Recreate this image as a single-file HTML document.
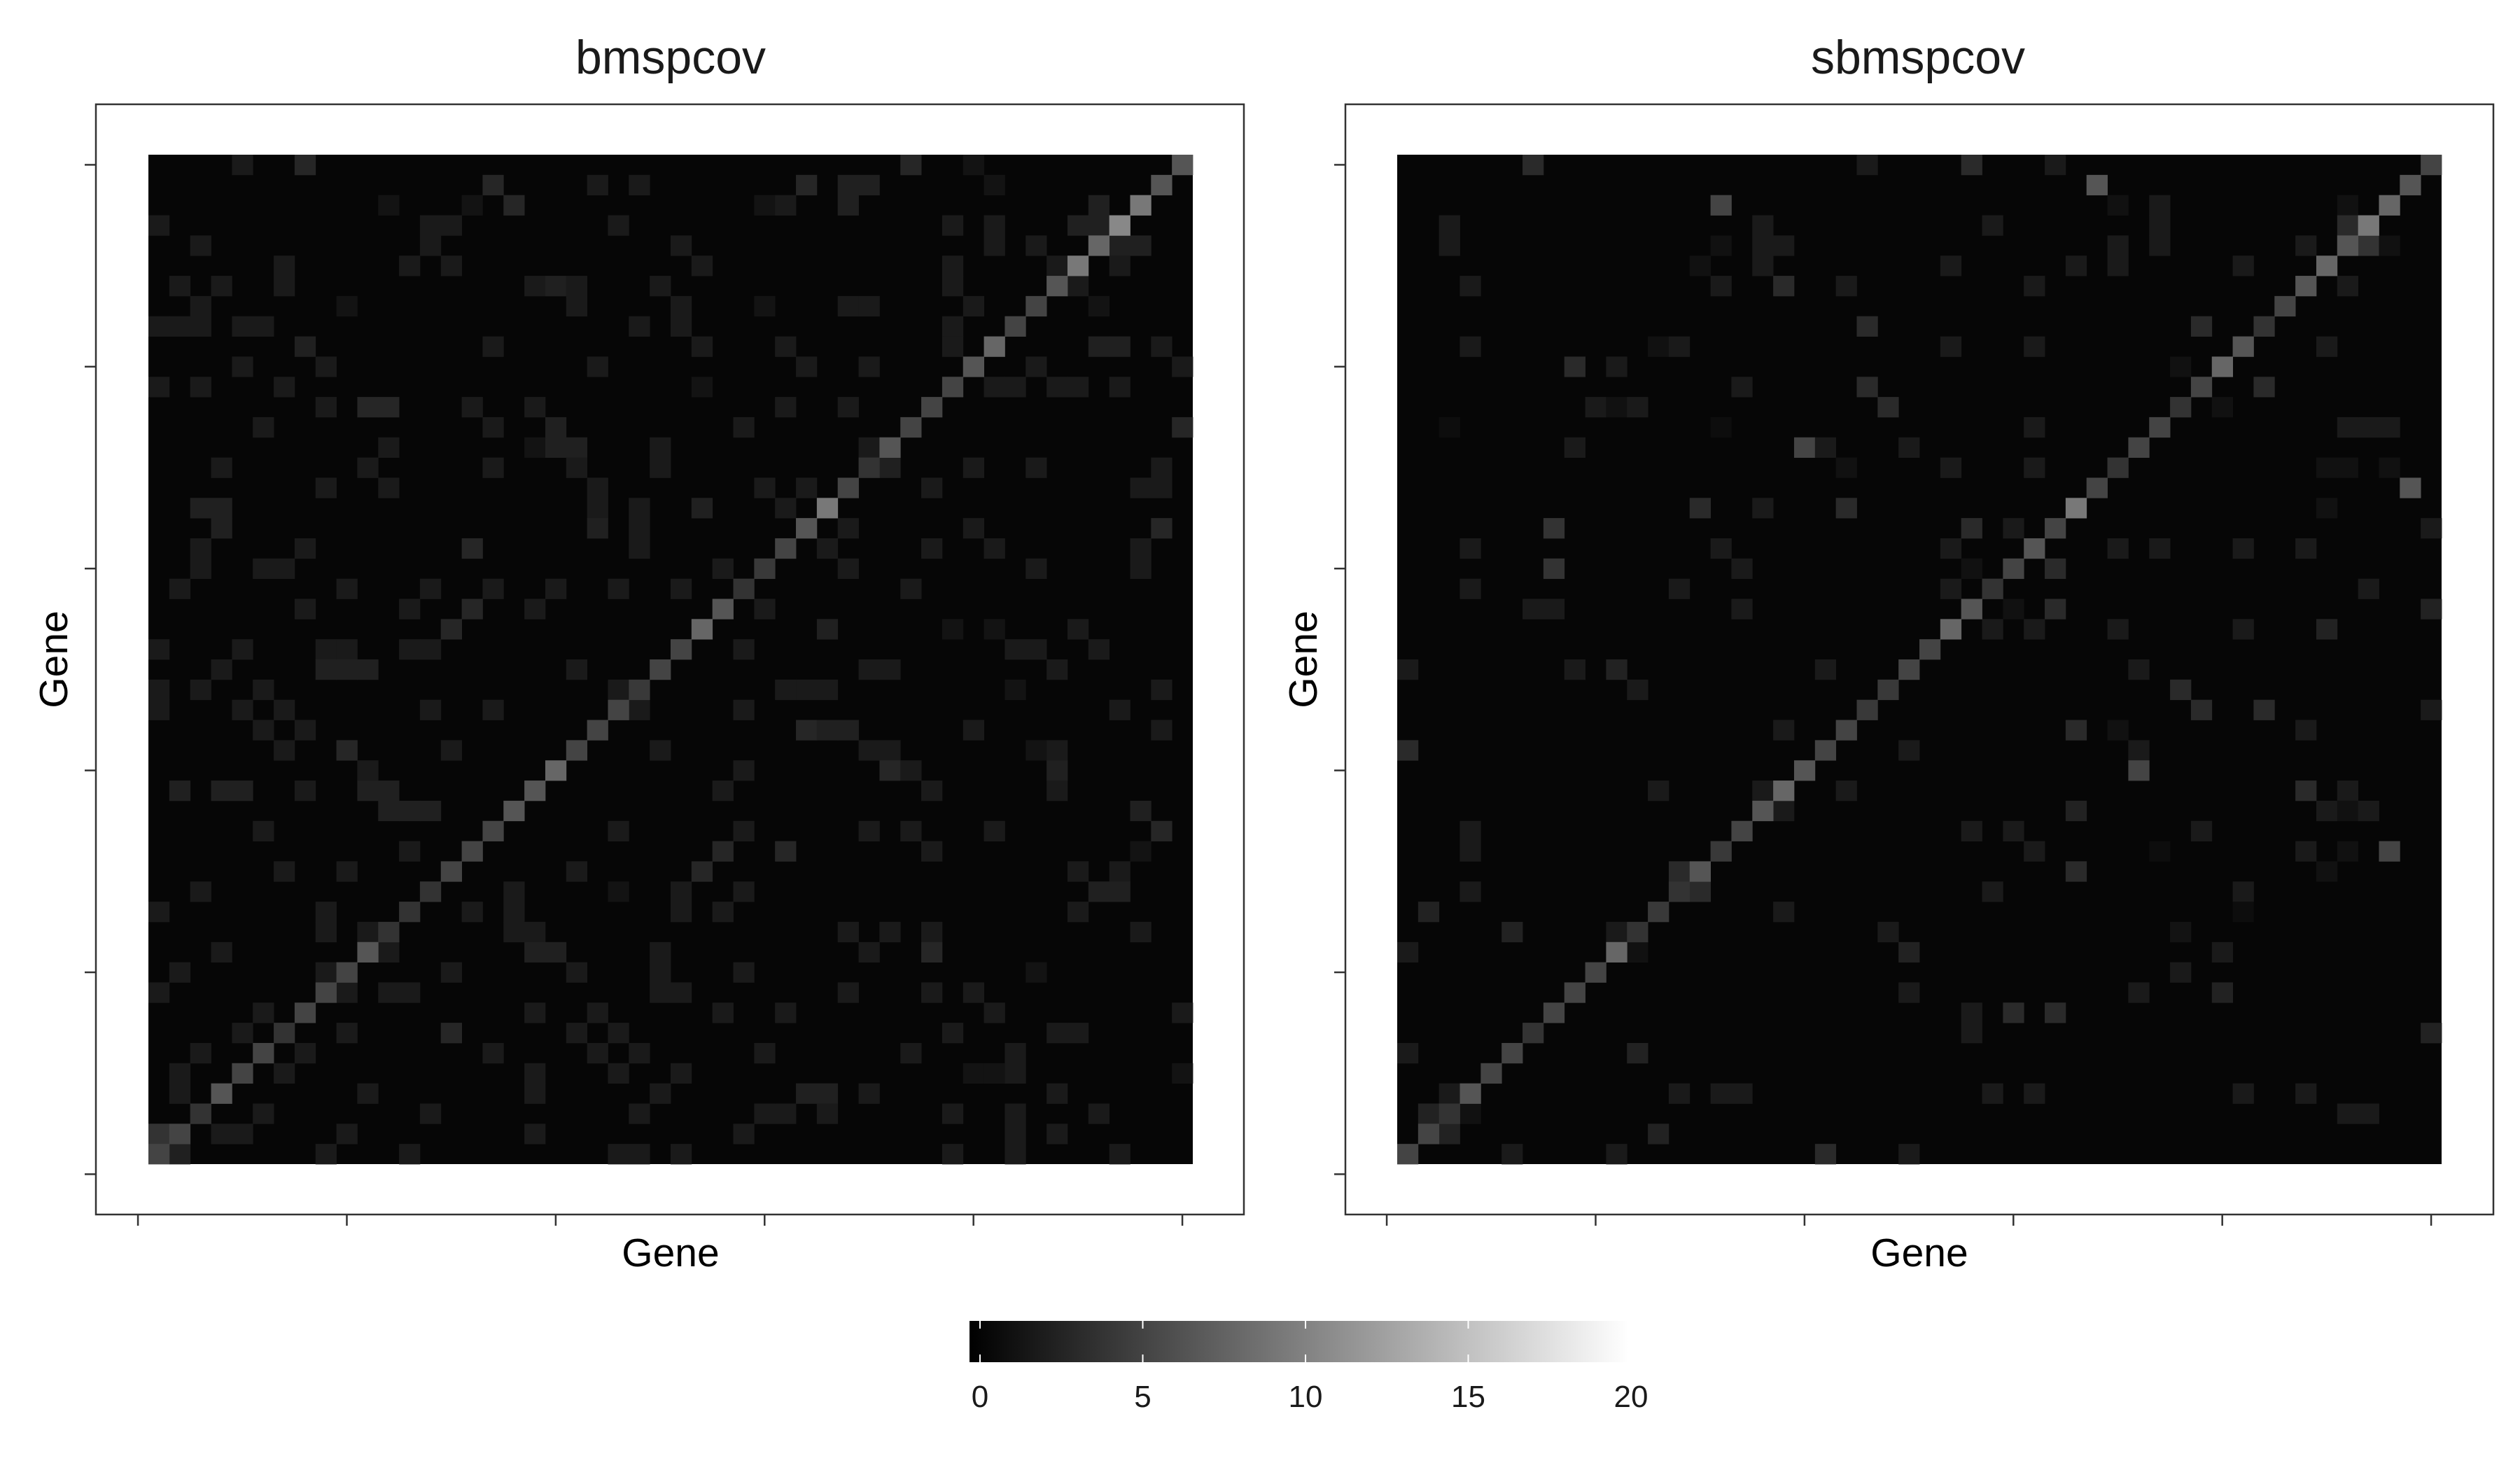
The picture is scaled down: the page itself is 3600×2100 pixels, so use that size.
<!DOCTYPE html>
<html><head><meta charset="utf-8"><style>
html,body{margin:0;padding:0;background:#fff;}
svg{display:block;font-family:"Liberation Sans",Arial,sans-serif;}
</style></head><body>
<svg id="chart" width="3600" height="2100" viewBox="0 0 3600 2100" xmlns="http://www.w3.org/2000/svg">
<rect x="0" y="0" width="3600" height="2100" fill="#fff"/>
<text x="958" y="105" font-size="68" text-anchor="middle" fill="#1a1a1a">bmspcov</text>
<text x="2740" y="105" font-size="68" text-anchor="middle" fill="#1a1a1a">sbmspcov</text>
<text x="958" y="1809" font-size="57" text-anchor="middle" fill="#000">Gene</text>
<text x="2742" y="1809" font-size="57" text-anchor="middle" fill="#000">Gene</text>
<text x="0" y="0" font-size="57" text-anchor="middle" fill="#000" transform="translate(96,942) rotate(-90)">Gene</text>
<text x="0" y="0" font-size="57" text-anchor="middle" fill="#000" transform="translate(1881,942) rotate(-90)">Gene</text>
<g id="left-panel"></g>
<g id="right-panel"></g>
<defs><linearGradient id="cbgrad" x1="0" x2="1" y1="0" y2="0"><stop offset="0" stop-color="#000"/><stop offset="1" stop-color="#fff"/></linearGradient></defs>
<g id="colorbar"></g>
</svg>
<script>
const N = 50;
const bgValue = 0.45;
const tickGenes = [0, 10, 20, 30, 40, 50];
const legendTicks = [0, 5, 10, 15, 20];
const legendTickLabels = ["0", "5", "10", "15", "20"];
const diagLeft = [5.3,5.3,4,6.7,5.3,5.3,4,5.3,5.3,5.3,6.7,4,4,4,5.3,5.3,5.3,6.7,6.7,8,5.3,5.3,5.3,4.5,5.3,5.3,8,6.7,4,4.5,5.3,6.7,9.4,5.3,4,6.7,5.3,5.3,5.3,6.7,8,5.3,5.3,6.7,9.4,8,10.7,9.4,6.7,6.7];
const diagRight = [5.3,5.3,4,6.7,5.3,5.3,4,5.3,5.3,5.3,8,4,4.5,4,6.7,4.5,5.3,6.7,8,6.7,5.3,5.3,4.5,4.5,5.3,5.3,8,6.7,4,5.3,6.7,5.3,9.4,5.3,4,5.3,5.3,4,5.3,8,6.7,4,5.3,6.7,8,6.7,9.4,8,6.7,5.3];
// [geneY, [[geneX, value], ...]]
const offLeft = [
[50,[[8,3],[5,2],[37,3],[40,1.5]]],
[49,[[17,3],[22,2],[24,2],[32,3],[34,2.5],[35,2.5],[41,1.5]]],
[48,[[12,1.5],[16,1.5],[18,3],[30,1.5],[31,2],[34,2.5],[46,2.5]]],
[47,[[1,2],[14,2],[15,2],[23,2],[39,2],[41,2],[45,2.5],[46,2.5]]],
[46,[[3,2],[14,2],[26,2],[41,2],[43,2],[47,2.5],[48,2.5]]],
[45,[[7,2],[13,2],[15,2],[27,2],[39,2],[44,2],[47,2]]],
[44,[[2,2],[4,2],[7,2],[19,2],[20,2.5],[21,2],[25,2],[39,2],[45,2]]],
[43,[[3,2],[10,1.5],[21,2],[26,2],[30,1.5],[34,2],[35,2],[40,2],[46,1.5]]],
[42,[[1,2],[2,2],[3,2],[5,2],[6,2],[24,2],[26,2],[39,2]]],
[41,[[8,2.5],[17,2],[27,2],[31,2],[39,2],[46,2.5],[47,2.5],[49,2]]],
[40,[[5,2],[9,2],[22,2],[32,2],[35,2],[43,2],[50,2]]],
[39,[[1,2],[3,2],[7,2],[27,1.5],[41,2],[42,2],[44,2],[45,2],[47,2]]],
[38,[[9,2],[11,3],[12,3],[16,2],[19,2],[31,2],[34,2]]],
[37,[[6,2],[17,2],[20,2.5],[29,2],[50,3]]],
[36,[[12,2],[19,1.5],[20,2.5],[21,2.5],[25,2],[35,2]]],
[35,[[4,2],[11,2],[17,2],[21,2],[25,2],[36,2.5],[40,2],[43,2],[49,2]]],
[34,[[9,2],[12,2],[22,2],[30,2],[32,2],[38,2],[48,2],[49,2]]],
[33,[[3,2.5],[4,2.5],[22,2],[24,2],[27,2.5],[31,2]]],
[32,[[4,2.5],[22,2.5],[24,2],[34,2],[40,2],[49,3]]],
[31,[[3,2],[8,2],[16,3],[24,2],[33,2],[38,2],[41,2],[48,2]]],
[30,[[3,2],[6,2],[7,2],[28,2],[34,2],[43,2],[48,2]]],
[29,[[2,2],[10,2],[14,2],[17,2],[20,2],[23,2],[26,2],[37,2]]],
[28,[[8,2],[13,2],[16,3],[19,2],[30,2]]],
[27,[[15,3],[33,2.5],[39,1.5],[41,1.5],[45,2]]],
[26,[[1,2],[5,2],[9,2],[10,2],[13,2],[14,2],[29,2],[42,2],[43,2],[46,2]]],
[25,[[4,2],[9,2.5],[10,2.5],[11,2.5],[21,2],[35,2],[36,2],[44,2]]],
[24,[[1,2],[3,2],[6,2],[23,2],[31,2],[32,2],[33,2],[42,1.5],[49,2]]],
[23,[[1,2],[5,2],[7,2],[14,2],[17,2],[24,2],[29,2],[47,2]]],
[22,[[6,2],[8,2],[32,3],[33,2.5],[34,2.5],[40,2],[49,2]]],
[21,[[7,2],[10,3],[15,2],[25,2],[35,2],[36,2],[43,1.5],[44,2]]],
[20,[[11,2],[29,2],[36,3],[37,2],[44,2.5]]],
[19,[[2,2.5],[4,2.5],[5,2.5],[8,2],[11,2.5],[12,2.5],[28,2],[38,2],[44,2]]],
[18,[[12,2.5],[13,2.5],[14,2.5],[48,2.5]]],
[17,[[6,2],[23,2],[29,2],[35,2],[37,2],[41,2],[49,3]]],
[16,[[13,2],[28,3],[31,3],[38,2],[48,1.5]]],
[15,[[7,2],[10,2],[21,2],[27,3],[45,2],[47,2]]],
[14,[[3,2],[18,2],[23,1.5],[26,2],[29,2],[46,2.5],[47,2.5]]],
[13,[[1,2],[9,2],[16,2],[18,2],[26,2],[28,2],[45,2]]],
[12,[[9,2],[11,2],[18,2],[19,2],[34,2],[36,2],[38,2],[48,2]]],
[11,[[4,2],[12,2],[19,2.5],[20,2.5],[25,2],[35,2],[38,3]]],
[10,[[2,2],[9,2],[15,2],[21,2],[25,2],[29,2],[43,1.5]]],
[9,[[1,2],[10,2],[12,2],[13,2],[25,2],[26,2],[34,2],[38,2],[40,2]]],
[8,[[6,2],[19,2],[22,2],[28,2],[31,2],[41,2],[50,2]]],
[7,[[5,2],[10,2],[15,3],[21,2],[23,2],[39,2],[44,2],[45,2]]],
[6,[[3,2],[8,2],[17,2],[22,2],[24,2],[30,2],[37,2],[42,2]]],
[5,[[2,2],[7,2],[19,2],[23,2],[26,2],[40,1.5],[41,1.5],[42,2],[50,1.5]]],
[4,[[2,2],[11,2],[19,2],[25,2],[32,2.5],[33,2.5],[35,2],[44,2]]],
[3,[[6,2],[14,2],[24,2],[30,2],[31,2],[33,2],[39,2],[42,2],[46,2]]],
[2,[[1,4],[4,2],[5,2],[10,2],[19,2],[29,2],[42,2],[44,2]]],
[1,[[2,2.5],[9,2],[13,2],[23,2],[24,2],[26,2],[39,2],[42,2],[47,2]]]
];
const offRight = [
[50,[[7,3.3],[23,2],[28,3.3],[32,2]]],
[49,[[34,6.7]]],
[48,[[16,5.3],[35,1.3],[37,2],[46,1.3]]],
[47,[[3,2],[18,2],[29,2],[37,2],[46,3.3]]],
[46,[[3,2],[16,1.3],[18,2],[19,2],[35,2],[37,2],[44,2],[47,4],[48,1.3]]],
[45,[[15,1.3],[18,2],[27,2],[33,2],[35,2],[41,2]]],
[44,[[4,2],[16,2],[19,3.3],[22,2],[31,2],[46,2]]],
[42,[[23,3.3],[39,3.3]]],
[41,[[4,2],[13,1.3],[14,2],[27,2],[31,2],[45,2]]],
[40,[[9,3.3],[11,2],[38,1.3]]],
[39,[[17,2],[23,3.3],[42,3.3]]],
[38,[[10,2],[11,1.3],[12,2],[24,3.3],[40,1.3]]],
[37,[[3,1],[16,1],[31,2],[46,2],[47,2],[48,2]]],
[36,[[9,2],[20,5.3],[21,2],[25,2]]],
[35,[[22,1.3],[27,2],[31,2],[45,1.3],[46,1.3],[48,1.3]]],
[34,[[49,6.7]]],
[33,[[15,3.3],[18,2],[22,3.3],[45,1.3]]],
[32,[[8,4],[28,3.3],[30,2],[50,2]]],
[31,[[4,2],[16,2],[27,2],[35,2],[37,2],[41,2],[44,2]]],
[30,[[8,4],[17,2],[28,1.3],[32,3.3]]],
[29,[[4,2],[14,2],[27,2],[47,2]]],
[28,[[7,2],[8,2],[17,2],[30,1.3],[32,3.3],[50,2.7]]],
[27,[[29,2],[31,2],[35,2],[41,2],[45,2.7]]],
[25,[[1,2],[9,2],[11,2.7],[21,2],[36,2]]],
[24,[[12,2],[38,3.3]]],
[23,[[39,3.3],[42,3.3],[50,2]]],
[22,[[19,2],[33,3.3],[35,1.3],[44,2]]],
[21,[[1,3.3],[25,2],[36,2]]],
[20,[[36,5.3]]],
[19,[[13,2],[18,2],[22,2],[44,3.3],[46,2]]],
[18,[[19,2],[33,2.7],[45,2],[46,1.3],[47,2]]],
[17,[[4,2],[28,2],[30,2],[39,2]]],
[16,[[4,2],[31,2],[37,1],[44,2],[46,1.3],[48,5.3]]],
[15,[[14,3.3],[33,3.3],[45,1.3]]],
[14,[[4,2],[15,3.3],[29,2],[41,2]]],
[13,[[2,2.7],[19,2],[41,1]]],
[12,[[6,2.7],[11,2],[24,2],[38,1.5]]],
[11,[[1,2],[12,1.3],[25,2.7],[40,2]]],
[10,[[38,2]]],
[9,[[25,2],[36,2],[40,2.7]]],
[8,[[28,2],[30,3.3],[32,3.3]]],
[7,[[28,2],[50,2.7]]],
[6,[[1,2],[12,2.7]]],
[4,[[3,2],[14,2],[16,2],[17,2],[29,2],[31,2],[41,2],[44,2]]],
[3,[[2,2.7],[4,1.3],[46,2],[47,2]]],
[2,[[3,2.7],[13,2.7]]],
[1,[[6,2],[11,2],[21,3.3],[25,2]]]
];

const NS = "http://www.w3.org/2000/svg";
function mk(tag, attrs, parent){
  const e = document.createElementNS(NS, tag);
  for (const k in attrs) e.setAttribute(k, attrs[k]);
  parent.appendChild(e);
  return e;
}
function colorOf(v){
  const g = Math.max(0, Math.min(255, Math.round(255 * v / 20)));
  return "rgb(" + g + "," + g + "," + g + ")";
}
function drawPanel(gid, boxX, heatX, diag, off, prefix){
  const g = document.getElementById(gid);
  const heatY = 221, heatW = 1492, heatH = 1442;
  const cw = heatW / N, ch = heatH / N;
  const xScale = gene => heatX + (gene - 0.5) * cw;
  const yScale = gene => heatY + heatH - (gene - 0.5) * ch;
  const box = mk("rect", {x: boxX, y: 149, width: 1640, height: 1586, fill: "#fff", stroke: "#333", "stroke-width": 2.5}, g);
  
  
  const bg = mk("rect", {x: heatX, y: heatY, width: heatW, height: heatH, fill: colorOf(bgValue)}, g);
  
  
  off.forEach(row => {
    const gy = row[0];
    row[1].forEach(c => {
      const r = mk("rect", {x: xScale(c[0]) - cw/2, y: yScale(gy) - ch/2, width: cw + 0.4, height: ch + 0.4, fill: colorOf(c[1])}, g);
      
      
    });
  });
  diag.forEach((v, i) => {
    const gene = i + 1;
    const r = mk("rect", {x: xScale(gene) - cw/2, y: yScale(gene) - ch/2, width: cw + 0.4, height: ch + 0.4, fill: colorOf(v)}, g);
    
    
  });
  tickGenes.forEach(t => {
    const xt = xScale(t);
    const a = mk("line", {x1: xt, x2: xt, y1: 1735, y2: 1751, stroke: "#333", "stroke-width": 2.5}, g);
    
    
    const yt = yScale(t);
    const b = mk("line", {x1: boxX - 16, x2: boxX, y1: yt, y2: yt, stroke: "#333", "stroke-width": 2.5}, g);
    
    
  });
}
drawPanel("left-panel", 137, 212, diagLeft, offLeft, "left");
drawPanel("right-panel", 1922, 1996, diagRight, offRight, "right");

(function(){
  const g = document.getElementById("colorbar");
  const bx0 = 1385, bx1 = 2327, by0 = 1887, by1 = 1946;
  const lx = v => 1400 + (2330 - 1400) * v / 20;
  const bar = mk("rect", {x: bx0, y: by0, width: bx1 - bx0, height: by1 - by0, fill: "url(#cbgrad)"}, g);
  
  
  legendTicks.forEach((t, i) => {
    const x = Math.min(lx(t), bx1 - 2);
    const l1 = mk("line", {x1: x, x2: x, y1: by0, y2: by0 + 11, stroke: "#fff", "stroke-width": 2}, g);
    
    
    const l2 = mk("line", {x1: x, x2: x, y1: by1 - 11, y2: by1, stroke: "#fff", "stroke-width": 2}, g);
    
    
    const tx = mk("text", {x: lx(t), y: 2010, "font-size": 44, "text-anchor": "middle", fill: "#1a1a1a"}, g);
    tx.textContent = legendTickLabels[i];
    
    
  });
})();
</script>
</body></html>
